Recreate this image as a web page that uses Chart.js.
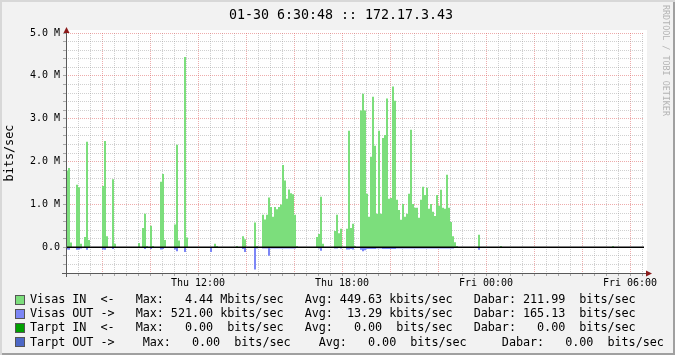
<!DOCTYPE html>
<html>
<head>
<meta charset="utf-8">
<script src="https://cdn.jsdelivr.net/npm/chart.js@4.4.1/dist/chart.umd.min.js"></script>
<style>
  body { margin: 0; background: #f2f2f2; }
  #wrap { position: relative; width: 675px; height: 355px; overflow: hidden; background: #f2f2f2; }
  #myChart { position: absolute; left: 0; top: 0; }
  .mono { position: absolute; font-family: "DejaVu Sans Mono", monospace; white-space: pre; color: #000; }
  #title { left: 0; width: 682px; top: 7px; line-height: 16px; font-size: 13.3px; text-align: center; }
  #mark { left: 661px; top: 5px; font-size: 8.4px; line-height: 10px; color: #b4b4b4; writing-mode: vertical-rl; }
  .legend-row { left: 30px; font-size: 11.8px; letter-spacing: -0.06px; line-height: 14px; }
  .box { position: absolute; left: 15px; width: 8px; height: 8px; border: 1px solid #555; }
  #shade { position: absolute; left: 0; top: 0; width: 675px; height: 355px; pointer-events: none;
    box-shadow: inset 2px 2px 0 #d8d8d8, inset -2px -2px 0 #a0a0a0; }
</style>
</head>
<body>
<div id="wrap">
  <canvas id="myChart" width="675" height="355"></canvas>
  <div id="title" class="mono">01-30 6:30:48 :: 172.17.3.43</div>
  <div id="mark" class="mono">RRDTOOL / TOBI OETIKER</div>
  <div id="shade"></div>
</div>
<script>
const ctx = document.getElementById("myChart").getContext("2d");
const mono = "DejaVu Sans Mono";

const startHour = 6.5; // Thu 06:30, first 5 minute step
const stepHours = 5 / 60;
const endHour = 6.5 + 578 / 24;

// Mbits/sec, one row per hour (12 steps of 5 min), starting Thu 06:30
const visasIn = [
  1.79, 1.85, 0.11, 0, 0, 1.46, 1.40, 0.08, 0, 0.24, 2.46, 0.17,
  0, 0, 0, 0, 0, 0, 1.43, 2.48, 0.26, 0, 0, 1.59,
  0.08, 0, 0, 0, 0, 0, 0, 0, 0, 0, 0, 0,
  0.10, 0, 0.45, 0.78, 0.03, 0, 0.50, 0.03, 0, 0, 0, 1.53,
  1.71, 0.17, 0, 0, 0, 0, 0.53, 2.39, 0.16, 0, 0, 4.44,
  0.23, 0, 0, 0, 0, 0, 0, 0, 0, 0, 0, 0,
  0, 0, 0.08, 0.03, 0, 0, 0, 0, 0, 0, 0, 0,
  0, 0.03, 0, 0, 0.26, 0.19, 0, 0, 0, 0, 0.58, 0.03,
  0, 0, 0.76, 0.65, 0.76, 1.16, 0.94, 0.71, 0.94, 0.89, 0.94, 1.00,
  1.92, 1.56, 1.13, 1.35, 1.26, 1.24, 0.76, 0.03, 0, 0, 0, 0,
  0, 0, 0, 0, 0, 0.24, 0.31, 1.18, 0.08, 0, 0, 0,
  0, 0, 0.38, 0.76, 0.33, 0.43, 0, 0, 0.43, 2.72, 0.45, 0.55,
  0.03, 0, 0, 3.19, 3.58, 3.19, 1.25, 0.71, 2.11, 3.51, 2.37, 0.78,
  2.72, 0.78, 2.55, 2.62, 3.47, 1.13, 1.15, 3.75, 3.42, 1.11, 0.87, 0.64,
  1.01, 0.71, 0.78, 1.25, 2.74, 1.01, 0.92, 0.92, 0.69, 1.11, 1.41, 1.22,
  1.39, 0.90, 1.01, 0.83, 0.73, 1.22, 0.97, 1.34, 0.92, 0.90, 1.69, 0.92,
  0.59, 0.26, 0.12, 0.03, 0, 0, 0, 0, 0, 0, 0, 0,
  0, 0, 0.29, 0, 0, 0, 0, 0, 0, 0, 0, 0,
  0, 0.03, 0, 0, 0, 0, 0, 0, 0, 0, 0, 0,
  0, 0, 0, 0, 0, 0, 0, 0, 0, 0, 0, 0,
  0, 0, 0, 0, 0, 0, 0, 0, 0, 0, 0, 0,
  0, 0, 0, 0, 0, 0, 0, 0, 0, 0, 0, 0,
  0, 0, 0, 0, 0, 0, 0, 0, 0, 0.03, 0, 0,
  0, 0, 0, 0, 0, 0, 0, 0, 0, 0, 0, 0,
];

// outgoing traffic, drawn below zero
const visasOut = [
  0.05, 0.06, 0, 0, 0, 0.06, 0.05, 0.03, 0, 0, 0.06, 0,
  0, 0, 0, 0, 0, 0, 0.05, 0.06, 0, 0, 0, 0.04,
  0, 0, 0, 0, 0, 0, 0, 0, 0, 0, 0, 0,
  0, 0, 0, 0.04, 0, 0, 0.04, 0, 0, 0, 0, 0.05,
  0.04, 0, 0, 0, 0, 0, 0.05, 0.09, 0, 0, 0, 0.11,
  0, 0, 0, 0, 0, 0, 0, 0, 0, 0, 0, 0,
  0.11, 0, 0, 0, 0, 0, 0, 0, 0, 0, 0, 0,
  0, 0, 0, 0, 0.04, 0.11, 0, 0, 0, 0, 0.52, 0.03,
  0, 0, 0.03, 0.03, 0.03, 0.20, 0.03, 0.03, 0.03, 0.03, 0.03, 0.03,
  0.03, 0.03, 0.03, 0.03, 0.03, 0.03, 0.03, 0, 0, 0, 0, 0,
  0, 0, 0, 0, 0, 0, 0.03, 0.08, 0, 0, 0, 0,
  0, 0, 0.03, 0.03, 0, 0.03, 0, 0, 0.05, 0.05, 0.04, 0.05,
  0, 0, 0, 0.06, 0.09, 0.07, 0.04, 0.04, 0.04, 0.04, 0.04, 0.03,
  0.03, 0.03, 0.04, 0.04, 0.04, 0.04, 0.04, 0.04, 0.04, 0.03, 0.03, 0.03,
  0.03, 0.03, 0.03, 0.03, 0.03, 0.03, 0.03, 0.03, 0.03, 0.03, 0.03, 0.03,
  0.03, 0.03, 0.03, 0.03, 0.03, 0.03, 0.03, 0.03, 0.03, 0.03, 0.03, 0.03,
  0.03, 0.03, 0, 0, 0, 0, 0, 0, 0, 0, 0, 0,
  0, 0, 0.06, 0, 0, 0, 0, 0, 0, 0, 0, 0,
  0, 0, 0, 0, 0, 0, 0, 0, 0, 0, 0, 0,
  0, 0, 0, 0, 0, 0, 0, 0, 0, 0, 0, 0,
  0, 0, 0, 0, 0, 0, 0, 0, 0, 0, 0, 0,
  0, 0, 0, 0, 0, 0, 0, 0, 0, 0, 0, 0,
  0, 0, 0, 0, 0, 0, 0, 0, 0, 0, 0, 0,
  0, 0, 0, 0, 0, 0, 0, 0, 0, 0, 0, 0,
];

const xTickHours = [12, 18, 24, 30];
const xTickText = ["Thu 12:00", "Thu 18:00", "Fri 00:00", "Fri 06:00"];
const yTickValues = [0, 1, 2, 3, 4, 5];
const yTickText = ["0.0", "1.0 M", "2.0 M", "3.0 M", "4.0 M", "5.0 M"];

const legendColors = ["#7cde7c", "#7c86f6", "#00a000", "#4d68c6"];
const legendRows = [
  "Visas IN  <-   Max:   4.44 Mbits/sec   Avg: 449.63 kbits/sec   Dabar: 211.99  bits/sec",
  "Visas OUT ->   Max: 521.00 kbits/sec   Avg:  13.29 kbits/sec   Dabar: 165.13  bits/sec",
  "Tarpt IN  <-   Max:   0.00  bits/sec   Avg:   0.00  bits/sec   Dabar:   0.00  bits/sec",
  "Tarpt OUT ->    Max:   0.00  bits/sec    Avg:   0.00  bits/sec     Dabar:   0.00  bits/sec",
];

const majorGrid = "rgba(222, 90, 90, 0.5)";
const minorGrid = "rgba(150, 150, 150, 0.45)";

function toPoints(values, sign) {
  let pts = values.map((v, i) => ({ x: startHour + i * stepHours, y: sign * v }));
  pts.push({ x: startHour + values.length * stepHours, y: 0 });
  return pts;
}

function findLabel(value, keys, texts) {
  let k = keys.findIndex((t) => Math.abs(t - value) < 1e-6);
  return k >= 0 ? texts[k] : "";
}

const rrdFrame = {
  id: "rrdFrame",
  beforeDraw(chart) {
    const a = chart.chartArea;
    const c = chart.ctx;
    c.save();
    c.fillStyle = "#ffffff";
    c.fillRect(a.left, a.top - 3, a.right - a.left + 3, a.bottom - a.top + 3);
    c.restore();
  },
  afterDatasetsDraw(chart) {
    const a = chart.chartArea;
    const c = chart.ctx;
    const y0 = chart.scales.y.getPixelForValue(0);
    c.save();
    c.strokeStyle = "#000";
    c.lineWidth = 1.4;
    c.beginPath();
    c.moveTo(a.left, y0);
    c.lineTo(a.right, y0);
    c.stroke();
    c.restore();
  },
  afterDraw(chart) {
    const a = chart.chartArea;
    const c = chart.ctx;
    c.save();
    c.strokeStyle = "#5a5a5a";
    c.lineWidth = 1;
    c.beginPath();
    c.moveTo(a.left + 0.5, a.top - 3);
    c.lineTo(a.left + 0.5, a.bottom + 4);
    c.moveTo(a.left - 4, a.bottom + 0.5);
    c.lineTo(a.right + 3, a.bottom + 0.5);
    c.stroke();
    c.fillStyle = "#8b1a1a";
    c.beginPath();
    c.moveTo(a.left + 0.5, a.top - 6);
    c.lineTo(a.left - 2.5, a.top);
    c.lineTo(a.left + 3.5, a.top);
    c.closePath();
    c.fill();
    c.beginPath();
    c.moveTo(a.right + 8, a.bottom + 0.5);
    c.lineTo(a.right + 2, a.bottom - 2.5);
    c.lineTo(a.right + 2, a.bottom + 3.5);
    c.closePath();
    c.fill();
    c.restore();
  },
};

const myChart = new Chart(ctx, {
  type: "line",
  data: {
    datasets: [
      {
        label: "Visas IN",
        data: toPoints(visasIn, 1),
        stepped: true,
        fill: "origin",
        backgroundColor: legendColors[0],
        borderColor: "rgba(0,0,0,0)",
        borderWidth: 0,
        pointRadius: 0,
      },
      {
        label: "Visas OUT",
        data: toPoints(visasOut, -1),
        stepped: true,
        fill: "origin",
        backgroundColor: legendColors[1],
        borderColor: "rgba(0,0,0,0)",
        borderWidth: 0,
        pointRadius: 0,
      },
    ],
  },
  options: {
    responsive: false,
    animation: false,
    layout: { padding: { left: 0, right: 31, top: 33, bottom: 62 } },
    plugins: { legend: { display: false }, tooltip: { enabled: false } },
    scales: {
      x: {
        type: "linear",
        min: startHour,
        max: endHour,
        afterFit: (s) => { s.height = 20; s.paddingLeft = 0; s.paddingRight = 0; },
        ticks: {
          stepSize: 0.5,
          includeBounds: false,
          autoSkip: false,
          maxRotation: 0,
          padding: 1,
          color: "#000",
          font: { family: mono, size: 10 },
          callback: (v) => findLabel(v, xTickHours, xTickText),
        },
        grid: {
          color: (c) => (c.tick && Math.abs(c.tick.value % 2) < 1e-6 ? majorGrid : minorGrid),
          tickLength: 3,
          tickColor: "#a8a8a8",
        },
        border: { display: false, dash: [1, 1] },
      },
      y: {
        min: -0.6,
        max: 5.0,
        afterFit: (s) => { s.width = 66; s.paddingTop = 0; s.paddingBottom = 0; },
        ticks: {
          stepSize: 0.2,
          autoSkip: false,
          padding: 3,
          color: "#000",
          font: { family: mono, size: 10 },
          callback: (v) => findLabel(v, yTickValues, yTickText),
        },
        grid: {
          color: (c) => (c.tick && Math.abs(c.tick.value - Math.round(c.tick.value)) < 1e-6 ? majorGrid : minorGrid),
          tickLength: 3,
          tickColor: "#a8a8a8",
        },
        border: { display: false, dash: [1, 1] },
        title: {
          display: true,
          text: "bits/sec",
          color: "#000",
          font: { family: mono, size: 11.8 },
          padding: { top: 3, bottom: 0 },
        },
      },
    },
  },
  plugins: [rrdFrame],
});

const wrap = document.getElementById("wrap");
legendRows.forEach((text, k) => {
  let top = 292 + k * 14.2;
  let box = document.createElement("div");
  box.className = "box";
  box.style.top = top + 2.5 + "px";
  box.style.background = legendColors[k];
  wrap.appendChild(box);

  let row = document.createElement("div");
  row.className = "mono legend-row";
  row.style.top = top + "px";
  row.textContent = text;
  wrap.appendChild(row);
});
wrap.appendChild(document.getElementById("shade"));
</script>
</body>
</html>
